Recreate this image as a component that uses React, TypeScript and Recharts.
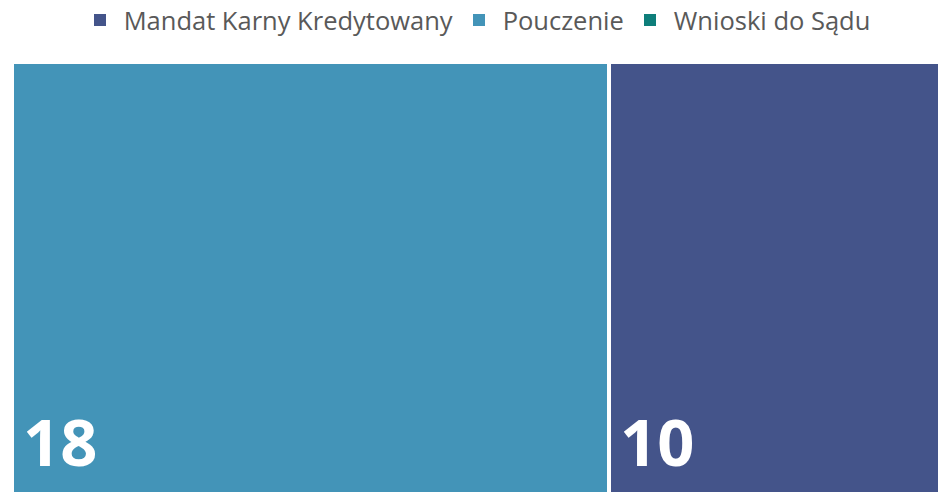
import React from "react";
import { Treemap } from "recharts";

const categories = ["Pouczenie", "Mandat Karny Kredytowany"];
const values = [18, 10];
const legendNames = ["Mandat Karny Kredytowany", "Pouczenie", "Wnioski do Sądu"];
const legendColors = ["#44548A", "#4394B8", "#0E7E7A"];

const colorOf = (name: string) => legendColors[legendNames.indexOf(name)] || "#999";

const data = categories.map((name, i) => ({ name, size: values[i] }));

const Cell = (props: any) => {
  const { x, y, width, height, name, depth } = props;
  if (depth !== 1) return <g />;
  return (
    <g>
      <rect x={x} y={y} width={width} height={height} fill={colorOf(name)} stroke="#ffffff" strokeWidth={4} />
      <text
        x={x + 11}
        y={y + height - 28}
        fill="#ffffff"
        fontFamily="'Open Sans', sans-serif"
        fontWeight={700}
        fontSize={65}
      >
        {props.size ?? props.value}
      </text>
    </g>
  );
};

export default function App() {
  return (
    <div style={{ position: "absolute", left: 0, top: 0, width: 938, height: 492, background: "#fff", overflow: "hidden" }}>
      <div
        style={{
          position: "absolute",
          top: 0,
          left: 0,
          width: 938,
          height: 40,
          display: "flex",
          justifyContent: "center",
          alignItems: "center",
          fontFamily: "'Open Sans', sans-serif",
          fontSize: 25.5,
          color: "#595959",
          paddingLeft: 46,
          boxSizing: "border-box",
        }}
      >
        {legendNames.map((n, i) => (
          <div key={n} style={{ display: "flex", alignItems: "center", marginRight: 20 }}>
            <span style={{ display: "inline-block", width: 12, height: 12, background: legendColors[i], marginRight: 18 }} />
            <span>{n}</span>
          </div>
        ))}
      </div>
      <div style={{ position: "absolute", left: 12, top: 62 }}>
        <Treemap
          width={928}
          height={432}
          data={data}
          dataKey="size"
          nameKey="name"
          isAnimationActive={false}
          content={<Cell />}
        />
      </div>
    </div>
  );
}
